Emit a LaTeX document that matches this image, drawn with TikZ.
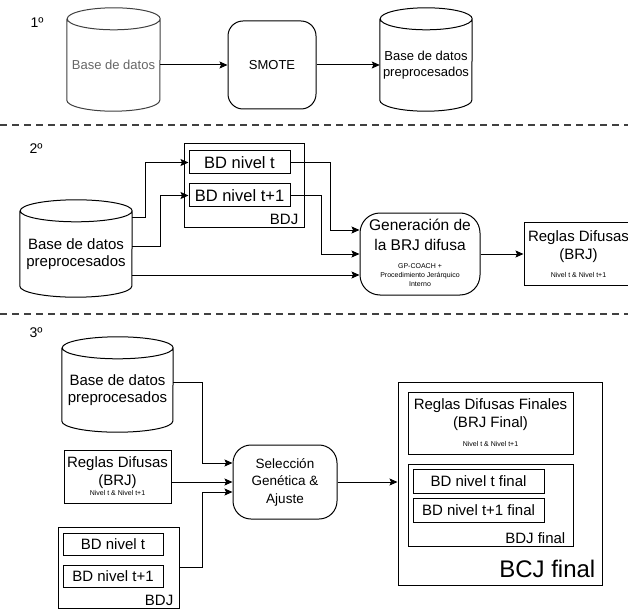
\documentclass[tikz,border=0pt]{standalone}
\usepackage{fontspec}
\setmainfont{Liberation Sans}
\usetikzlibrary{arrows.meta,calc}
\newcommand{\chica}{\fontsize{7}{9}\selectfont}
% cilindro alrededor de un nodo: nodo, radio x, radio y
\newcommand{\cilindro}[4][black]{%
  \draw[borde,draw=#1] (#2.north west) -- ([yshift=#4]#2.south west)
    arc[start angle=180,end angle=360,x radius=#3,y radius=#4]
    -- (#2.north east)
    arc[start angle=0,end angle=180,x radius=#3,y radius=#4]
    arc[start angle=180,end angle=360,x radius=#3,y radius=#4];
}
\tikzset{
  borde/.style={draw=black, line width=1pt},
  tam/.style 2 args={minimum width=#1pt, minimum height=#2pt},
  caja/.style={borde, rectangle, inner sep=1pt, align=center, font=\fontsize{15}{18}\selectfont},
  nivel/.style={caja, font=\fontsize{16.5}{18}\selectfont},
  proceso/.style={caja, rounded corners=#1},
  proceso/.default=16pt,
  cilindro/.style={rectangle, inner sep=0pt, align=center, font=\fontsize{15}{17}\selectfont},
  flecha/.style={line width=1pt, -{Stealth[length=8pt,width=7pt,inset=1.5pt]}},
  separador/.style={black!75, line width=1.2pt, dash pattern=on 7pt off 5pt},
  etiqueta/.style={inner sep=0pt, font=\fontsize{14}{16}\selectfont},
  pie/.style={anchor=south east, inner xsep=6pt, inner ysep=3pt, font=\fontsize{15}{18}\selectfont}
}
\begin{document}
\begin{tikzpicture}[x=1pt,y=-1pt]
  \clip (0,0) rectangle (628,612);
  \fill[white] (0,0) rectangle (628,612);

  % 1
  \node[etiqueta] (n1) at (37,23) {1º};
  \node[cilindro, tam={93}{92}, text=black!60, font=\fontsize{13}{16}\selectfont] (bd1) at (113.5,65) {Base de datos};
  \cilindro[black!75]{bd1}{46.5pt}{11pt}
  \node[proceso=15pt, tam={88}{88}, font=\fontsize{13}{16}\selectfont] (smote) at (272,65) {SMOTE};
  \node[cilindro, tam={92}{92}, font=\fontsize{13}{16}\selectfont] (bd2) at (426,65) {Base de datos\\preprocesados};
  \cilindro{bd2}{46pt}{11pt}
  \draw[flecha] (bd1.east) -- (smote.west);
  \draw[flecha] (smote.east) -- (bd2.west);

  \draw[separador] (0,125) -- (628,125);

  % 2
  \node[etiqueta] (n2) at (36,149) {2º};
  \node[caja, tam={120}{83}] (bdj2) at (244,185.5) {};
  \node[pie] (bdj2t) at (bdj2.south east) {BDJ};
  \node[nivel, tam={101}{23}] (nt2) at (239.5,162.5) {BD nivel t};
  \node[nivel, tam={101}{23}] (nt12) at (239.5,195.5) {BD nivel t+1};
  \node[cilindro, tam={112}{86}] (bd3) at (76,254) {Base de datos\\preprocesados};
  \cilindro{bd3}{56pt}{11pt}
  \node[proceso=20pt, tam={120}{82}, font=\fontsize{15.5}{20}\selectfont] (gen) at (420,254)
    {Generación de\\la BRJ difusa\\[-2pt]\chica\begin{tabular}[t]{@{}c@{}}GP-COACH +\\Procedimiento Jerárquico\\Interno\end{tabular}};
  \node[caja, tam={109}{63}] (reg2) at (578.5,254)
    {Reglas Difusas\\(BRJ)\\\chica Nivel t \& Nivel t+1};
  \draw[flecha] ([yshift=37pt]bd3.east) -- ++(13,0) |- (nt2.west);
  \draw[flecha] ([yshift=8pt]bd3.east) -- ++(28,0) |- (nt12.west);
  \draw[flecha] ([yshift=-21pt]bd3.east) -- ([yshift=-21pt]gen.west);
  \draw[flecha] (nt2.east) -- ++(40,0) |- ([yshift=24pt]gen.west);
  \draw[flecha] (nt12.east) -- ++(31,0) |- (gen.west);
  \draw[flecha] (gen.east) -- (reg2.west);

  \draw[separador] (0,314) -- (628,314);

  % 3
  \node[etiqueta] (n3) at (36,333) {3º};
  \node[cilindro, tam={111}{84}] (bd4) at (117.5,390) {Base de datos\\preprocesados};
  \cilindro{bd4}{55.5pt}{11pt}
  \node[caja, tam={107}{53}] (reg3) at (117.5,476.5)
    {Reglas Difusas\\(BRJ)\\[-8pt]\chica Nivel t \& Nivel t+1};
  \node[caja, tam={121}{81}] (bdj3) at (118.5,567.5) {};
  \node[pie] (bdj3t) at (bdj3.south east) {BDJ};
  \node[caja, tam={100}{22}] (nt3) at (113,544) {BD nivel t};
  \node[caja, tam={100}{22}] (nt13) at (113,576) {BD nivel t+1};
  \node[proceso=18pt, tam={104}{74}, font=\fontsize{13.5}{17.5}\selectfont] (sel) at (285,482)
    {Selección\\Genética \&\\Ajuste};
  \node[caja, tam={204}{203}] (bcj) at (500,483.5) {};
  \node[pie, inner xsep=7pt, inner ysep=8pt, font=\fontsize{24}{28}\selectfont] (bcjt) at (bcj.south east) {BCJ final};
  \node[caja, tam={165}{62}] (regf) at (490.5,423)
    {Reglas Difusas Finales\\(BRJ Final)\\[1pt]\chica Nivel t \& Nivel t+1};
  \node[caja, tam={165}{82}] (bdjf) at (490.5,505) {};
  \node[pie, inner xsep=8pt] (bdjft) at (bdjf.south east) {BDJ final};
  \node[caja, tam={131}{24}] (ntf) at (478.5,481) {BD nivel t final};
  \node[caja, tam={131}{24}] (nt1f) at (478.5,510) {BD nivel t+1 final};
  \draw[flecha] ([yshift=8pt]bd4.east) -- ++(29,0) |- ([yshift=19pt]sel.west);
  \draw[flecha] ([yshift=-5.5pt]reg3.east) -- (sel.west);
  \draw[flecha] (bdj3.east) -- ++(23,0) |- ([yshift=-10pt]sel.west);
  \draw[flecha] (sel.east) -- (sel.east -| bcj.west);
\end{tikzpicture}
\end{document}
